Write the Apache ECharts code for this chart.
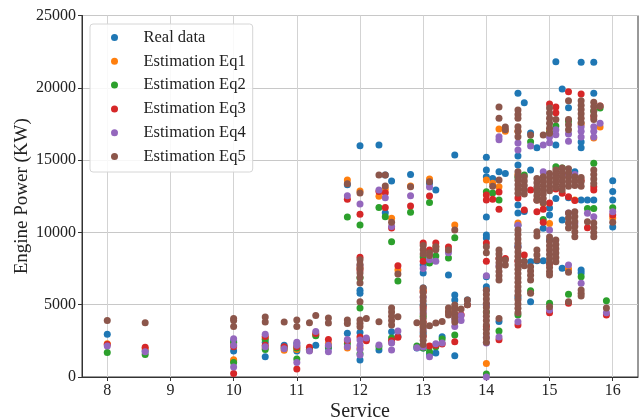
<!DOCTYPE html>
<html>
<head>
<meta charset="utf-8">
<script src="https://cdn.jsdelivr.net/npm/echarts@6/dist/echarts.min.js"></script>
<style>html,body{margin:0;padding:0;background:#fff}#c{width:641px;height:419px}</style>
</head>
<body>
<div id="c"></div>
<script>
const seriesNames = ['Real data','Estimation Eq1','Estimation Eq2','Estimation Eq3','Estimation Eq4','Estimation Eq5'];
const xTicks = [8,9,10,11,12,13,14,15,16];

const realData = [[8,2950],[8.6,1800],[10,2500],[10,1800],[10.5,2400],[10.5,1400],[10.8,2200],[11,1800],[11,2300],[11.2,1900],[11.3,2200],[11.5,2000],[11.8,13300],[11.8,3020],
[12,16000],[12,6000],[12,5800],[12,3070],[12,1180],[12.3,16050],[12.3,1870],[12.4,13970],[12.4,11360],[12.5,13550],[12.5,3130],[12.6,2800],[12.8,14010],[12.9,2000],
[13,7740],[13,7190],[13,6150],[13,5000],[13,3000],[13,2000],[13.1,13400],[13.1,1590],[13.2,12930],[13.2,1660],[13.3,2790],[13.4,7050],[13.5,15350],[13.5,5670],[13.5,5320],[13.5,1470],[13.7,5320],
[14,15190],[14,14310],[14,13850],[14,11060],[14,9820],[14,9610],[14,6940],[14,6250],[14,6020],[14,5000],
[14.1,13730],[14.2,14200],[14.2,3830],[14.3,14080],
[14.5,19620],[14.5,15280],[14.5,14660],[14.5,11900],[14.5,11340],[14.5,10500],[14.5,9060],[14.5,5500],
[14.6,18970],[14.6,11450],[14.7,16870],[14.7,14310],[14.7,7970],[14.7,5210],[14.8,15860],[14.8,8040],[14.9,10280],[14.9,8040],
[15,11690],[15,11200],[15,9470],[15.1,21800],[15.1,16040],[15.1,12350],[15.2,19920],[15.2,10860],[15.2,7520],[15.3,18620],[15.3,12400],[15.4,14200],
[15.5,21760],[15.5,16250],[15.5,15860],[15.5,12240],[15.5,7400],[15.5,7190],[15.6,12240],[15.7,21760],[15.7,19620],[15.7,12240],
[16,13580],[16,12820],[16,12240],[16,10370]];

const eq1Data = [[8,2300],[8.6,1950],[10,1200],[10,1100],[10,2300],[10.5,2000],[10.5,2700],[10.8,1850],[11,1900],[11.2,1850],[11.3,2900],[11.5,2300],[11.8,13620],[11.8,2000],
[12,12860],[12,7600],[12,2000],[12.3,12500],[12.4,13000],[12.5,10970],[12.5,2400],[12.6,7400],[12.8,13210],
[13,6000],[13,3500],[13.1,13690],[13.2,9000],[13.4,4500],[13.5,10510],[13.5,4800],
[14,13620],[14,940],[14.1,13400],[14.2,17150],[14.2,13160],[14.3,17000],[14.5,10650],[14.5,14000],[14.5,17000],[14.9,12000],
[15,10620],[15,17000],[15.3,7470],[15.4,12240],[15.5,17500],[15.7,16530],[15.8,17290],[16,11000]];

const eq2Data = [[8,1700],[8.6,1550],[10,2400],[10,1000],[10.5,2600],[10.5,1900],[10.8,2000],[11,1250],[11,2000],[11.2,1900],[11.3,2850],[11.5,2100],[11.8,11060],[11.8,2300],
[12,10510],[12,6850],[12,4770],[12,1600],[12.1,2600],[12.3,11730],[12.3,2100],[12.4,11090],[12.5,9360],[12.5,2700],[12.6,6640],[12.8,11390],[12.9,2140],
[13,8300],[13,4200],[13,2000],[13.1,12060],[13.1,7880],[13.1,1750],[13.2,8370],[13.2,2100],[13.3,2630],[13.4,8230],[13.5,9630],[13.5,2900],
[14,12810],[14,4500],[14,200],[14.1,12720],[14.2,12240],[14.2,3180],[14.5,4290],[14.5,13800],[14.6,13970],[14.7,16270],[14.7,5970],[14.9,10900],
[15,5100],[15,16900],[15.1,14540],[15.1,17350],[15.2,14450],[15.3,17700],[15.3,5720],[15.5,6940],[15.6,11660],[15.7,18400],[15.7,14780],[15.7,11660],[15.8,18600],[15.9,5280],[16,11700]];

const eq3Data = [[8,2250],[8.6,2050],[10,2100],[10,250],[10.5,2800],[10.5,2200],[10.8,2100],[11,550],[11,2100],[11.2,2050],[11.3,3000],[11.5,2600],[11.8,12300],[11.8,2500],
[12,11250],[12,8280],[12,7400],[12,2760],[12.1,2500],[12.3,12820],[12.4,12750],[12.4,11730],[12.5,10300],[12.5,2500],[12.6,7700],[12.6,2750],[12.8,11830],
[13,9270],[13,8000],[13,5900],[13,4800],[13,3800],[13,2800],[13.1,12520],[13.1,8780],[13.1,2140],[13.2,9270],[13.2,2200],[13.3,2280],[13.4,8990],[13.5,4300],[13.5,2440],[13.6,4300],[13.7,5000],
[14,12590],[14,12240],[14,9270],[14,8000],[14,3500],[14.1,12300],[14.2,12800],[14.2,11600],[14.2,8200],[14.2,2580],[14.3,8200],
[14.5,12380],[14.5,3600],[14.5,8000],[14.6,11550],[14.6,8440],[14.7,12930],[14.8,12240],[14.8,11430],[14.9,11600],[14.9,10700],
[15,18880],[15,12030],[15,7810],[15,4450],[15.1,18670],[15.1,18270],[15.1,13000],[15.2,12700],[15.3,19730],[15.3,12470],[15.3,5100],[15.4,12200],[15.5,19570],[15.5,13600],[15.6,10330],[15.7,18000],[15.7,13160],[15.7,12930],[15.8,18740],[15.9,4290],[16,11200]];

const eq4Data = [[8,2150],[8.6,1750],[10,2650],[10,2200],[10,700],[10.5,2950],[10.5,2100],[10.8,1950],[11,2400],[11,2200],[11,1000],[11.2,1800],[11.3,3150],[11.5,2200],[11.5,1750],[11.8,12540],[11.8,2600],[11.8,2100],
[12,11960],[12,7700],[12,2560],[12,2200],[12,1900],[12,1520],[12.1,2700],[12.3,12930],[12.3,2210],[12.4,12400],[12.5,10400],[12.5,2350],[12.5,1870],[12.6,3180],[12.8,12540],[12.9,2030],
[13,7500],[13,5500],[13,4500],[13,3300],[13,2070],[13.1,13140],[13.1,8100],[13.1,1400],[13.2,8000],[13.2,2300],[13.3,2350],[13.4,8600],[13.5,4000],[13.5,3500],[13.6,4250],[13.6,3900],
[14,7000],[14,5000],[14,2750],[14,2350],[14,0],[14.2,16620],[14.2,16400],[14.2,7700],[14.2,2760],[14.5,10500],[14.5,3820],[14.5,16180],[14.5,15700],[14.5,9000],[14.7,15970],[14.9,16040],[14.9,14200],
[15,16600],[15,16200],[15,10170],[15,4630],[15.1,17100],[15.1,16760],[15.1,14000],[15.3,16800],[15.3,16300],[15.3,14000],[15.3,11340],[15.3,7750],[15.4,14000],[15.4,10600],[15.5,17300],[15.5,17000],[15.5,16600],[15.5,6480],[15.6,11320],[15.7,17300],[15.7,17000],[15.7,16600],[15.7,11090],[15.8,17540],[15.9,4450],[16,11430]];

const eq5Data = [[8,3900],[8.6,3750],[10,4050],[10,3900],[10,3500],[10.5,4150],[10.5,3800],[10.8,3800],[11,3950],[11,3500],[11.2,3750],[11.3,4250],[11.5,4080],[11.5,3730],[11.8,13370],[11.8,3940],[11.8,3700],
[12,12720],[12,8100],[12,7800],[12,7500],[12,7200],[12,6900],[12,6500],[12,5210],[12,3940],[12,3700],[12,3480],[12.1,4050],
[12.3,13970],[12.3,3820],[12.4,13970],[12.4,13210],[12.5,10700],[12.5,4770],[12.5,4500],[12.5,4200],[12.5,3900],[12.5,3600],[12.6,7120],[12.6,4170],[12.8,13160],[12.9,3750],
[13,9100],[13,8800],[13,8500],[13,6150],[13,5850],[13,5550],[13,5250],[13,4950],[13,4650],[13,4350],[13,4050],[13,3750],[13,3450],[13,3150],[13,2850],[13,2550],[13,2250],
[13.1,13500],[13.1,8600],[13.1,8400],[13.1,3550],[13.2,9000],[13.2,8800],[13.2,3730],[13.3,3830],[13.4,8780],[13.4,4770],[13.4,4520],[13.4,4290],
[13.5,10170],[13.5,4980],[13.5,4700],[13.5,4400],[13.5,4100],[13.5,3800],[13.6,4700],[13.7,5320],[13.7,5000],
[14,9000],[14,8600],[14,6000],[14,5700],[14,5400],[14,5100],[14,4800],[14,4500],[14,4200],[14,3900],[14,3600],[14,3300],[14,3000],[14,2700],[14,2400],[14.1,13200],
[14.2,18670],[14.2,17900],[14.2,13620],[14.2,8780],[14.2,8500],[14.2,8200],[14.2,7900],[14.2,7600],[14.2,7300],[14.2,7000],[14.2,6700],[14.2,4050],
[14.3,17290],[14.3,17100],[14.3,8090],[14.3,7750],
[14.5,18460],[14.5,18150],[14.5,17900],[14.5,17310],[14.5,17000],[14.5,16620],[14.5,14200],[14.5,13900],[14.5,13600],[14.5,13300],[14.5,13000],[14.5,12700],[14.5,10170],[14.5,9850],[14.5,9550],[14.5,9250],[14.5,8950],[14.5,8650],[14.5,8350],[14.5,8050],[14.5,7750],[14.5,7450],[14.5,7150],[14.5,6850],[14.5,6550],[14.5,6250],[14.5,5950],[14.5,5650],[14.5,5350],[14.5,5050],[14.5,4750],[14.5,4450],
[14.6,13850],[14.6,13550],[14.6,13250],[14.6,12950],[14.6,12650],[14.6,8000],[14.6,7700],
[14.7,16740],[14.7,7630],[14.7,7330],[14.7,7030],[14.7,6710],[14.7,5790],
[14.8,13730],[14.8,13430],[14.8,13130],[14.8,12830],[14.8,12530],[14.8,12230],[14.8,10050],[14.8,9750],[14.8,8780],[14.8,8430],[14.8,8090],
[14.9,16740],[14.9,13850],[14.9,13550],[14.9,13250],[14.9,12950],[14.9,12650],[14.9,12350],[14.9,12050],
[15,18600],[15,18250],[15,17900],[15,17550],[15,17200],[15,16850],[15,14080],[15,13780],[15,13480],[15,13180],[15,12880],[15,9680],[15,9380],[15,9080],[15,8780],[15,8480],[15,8180],[15,7880],[15,7580],[15,7280],[15,7050],[15,4860],
[15.1,17800],[15.1,14310],[15.1,14010],[15.1,13710],[15.1,13410],[15.1,13110],[15.1,9470],[15.1,9170],[15.1,8870],[15.1,8570],[15.1,8270],[15.1,7970],
[15.2,14450],[15.2,14150],[15.2,13850],[15.2,13550],[15.2,13250],[15.2,12950],
[15.3,19110],[15.3,17800],[15.3,17450],[15.3,17100],[15.3,14400],[15.3,14100],[15.3,13800],[15.3,13500],[15.3,13200],[15.3,11340],[15.3,11000],[15.3,10650],[15.3,10300],[15.3,7250],[15.3,5210],
[15.4,13850],[15.4,13550],[15.4,13250],[15.4,11430],[15.4,11100],[15.4,10750],[15.4,10400],[15.4,10050],[15.4,9700],
[15.5,19100],[15.5,18800],[15.5,18500],[15.5,18200],[15.5,17900],[15.5,17600],[15.5,13800],[15.5,13500],[15.5,13200],[15.5,6020],[15.5,5800],[15.5,5600],
[15.6,10740],
[15.7,19000],[15.7,18700],[15.7,18400],[15.7,18100],[15.7,17800],[15.7,14310],[15.7,14000],[15.7,13700],[15.7,13390],[15.7,10650],[15.7,10330],[15.7,10000],[15.7,9700],
[15.8,18740],[15.9,4770],[16,10700]];

const allData = [realData, eq1Data, eq2Data, eq3Data, eq4Data, eq5Data];
const colors = ['#1f77b4','#ff7f0e','#2ca02c','#d62728','#9467bd','#8c564b'];
const FONT = 'Liberation Serif';

const chart = echarts.init(document.getElementById('c'), null, {renderer: 'canvas'});
chart.setOption({
  animation: false,
  backgroundColor: '#fff',
  color: colors,
  textStyle: {fontFamily: FONT},
  grid: {left: 82, right: 3, top: 15.5, bottom: 42, show: true, borderColor: '#333', borderWidth: 1, containLabel: false, outerBoundsMode: 'none'},
  legend: {
    orient: 'vertical', left: 90, top: 24,
    padding: [5, 7, 7, 21],
    itemWidth: 48, itemHeight: 7, itemGap: 6.8,
    icon: 'circle',
    backgroundColor: 'rgba(255,255,255,0.85)',
    borderColor: '#d6d6d6', borderWidth: 1, borderRadius: 3,
    textStyle: {fontFamily: FONT, fontSize: 16.5, color: '#222', lineHeight: 16},
    data: seriesNames
  },
  xAxis: {
    type: 'value', min: 7.6, max: 16.4,
    name: 'Service', nameLocation: 'middle', nameGap: 25, nameMoveOverlap: false,
    nameTextStyle: {fontFamily: FONT, fontSize: 20, color: '#222'},
    axisLine: {show: true, lineStyle: {color: '#333', width: 1}},
    axisTick: {show: true, length: 4, lineStyle: {color: '#333'}, customValues: xTicks},
    axisLabel: {fontFamily: FONT, fontSize: 16, color: '#222', margin: 6, customValues: xTicks},
    splitLine: {show: true, lineStyle: {color: '#d3d3d3', width: 1}}
  },
  yAxis: {
    type: 'value', min: 0, max: 25000, interval: 5000,
    name: 'Engine Power (KW)', nameLocation: 'middle', nameGap: 50, nameMoveOverlap: false,
    nameTextStyle: {fontFamily: FONT, fontSize: 19, color: '#222'},
    axisLine: {show: true, lineStyle: {color: '#333', width: 1}},
    axisTick: {show: true, length: 4, lineStyle: {color: '#333'}},
    axisLabel: {fontFamily: FONT, fontSize: 16, color: '#222', margin: 6, formatter: v => String(v)},
    splitLine: {show: true, lineStyle: {color: '#c8c8c8', width: 1}}
  },
  series: seriesNames.map((n, i) => ({
    name: n, type: 'scatter', data: allData[i],
    symbol: 'circle', symbolSize: 7,
    itemStyle: {color: colors[i], opacity: 1},
    emphasis: {disabled: true}
  }))
});
</script>
</body>
</html>
